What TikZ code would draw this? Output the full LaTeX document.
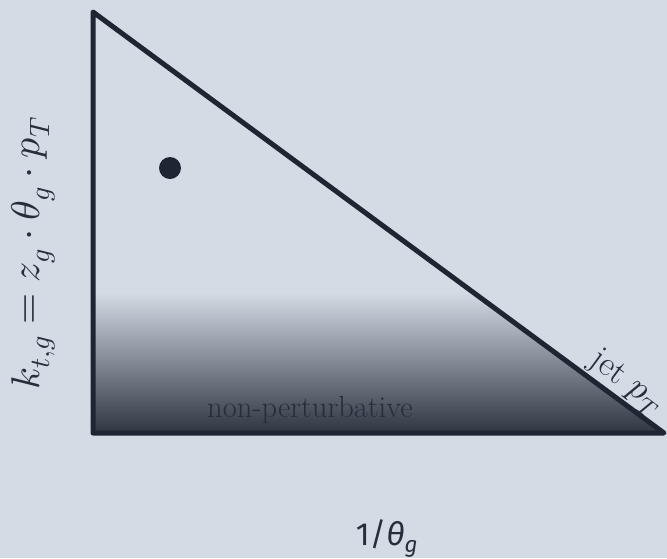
\documentclass[tikz,border=0pt]{standalone}
\usepackage{fontspec}
\usepackage{unicode-math}
\setmathfont{Latin Modern Math}
\newfontfamily\firasans{Fira Sans}
\definecolor{bgc}{HTML}{D4DBE5}
\definecolor{darkc}{HTML}{1F2633}
\definecolor{midc}{HTML}{A0A6B0}
\definecolor{shadec}{HTML}{29303C}
\definecolor{txtc}{HTML}{262D3B}
\begin{document}
\begin{tikzpicture}[x=1pt,y=-1pt,
  edge/.style={draw=darkc,line width=5pt,line join=round,line cap=round},
  lbl/.style={text=txtc,inner sep=0pt}]
\fill[bgc] (0,0) rectangle (667,558);
\useasboundingbox (0,0) rectangle (667,558);
\coordinate (A) at (93,12);
\coordinate (B) at (93,433);
\coordinate (C) at (664,433);
\begin{scope}
  \clip (A) -- (B) -- (C) -- cycle;
  \shade[top color=bgc,middle color=midc,bottom color=shadec] (93,292) rectangle (664,438);
\end{scope}
\draw[edge] (A) -- (B) -- (C) -- cycle;
\fill[darkc] (170,168) circle (11);
\node[lbl,font=\fontsize{30.5}{34}\selectfont,anchor=base] (np) at (310,417) {non-perturbative};
\path (A) -- (C) node[lbl,font=\fontsize{35}{38}\selectfont,pos=0.915,sloped,above=2pt] (jet) {jet $p_T$};
\node[lbl,font=\fontsize{40}{44}\selectfont,rotate=90] (yl) at (33,253) {$k_{t,g} = z_g\cdot\theta_g\cdot p_T$};
\node[lbl,font=\firasans\fontsize{32}{36}\selectfont,anchor=base] (xl) at (387,545) {1/\textit{θ}\textsubscript{\textit{g}}};
\end{tikzpicture}
\end{document}
